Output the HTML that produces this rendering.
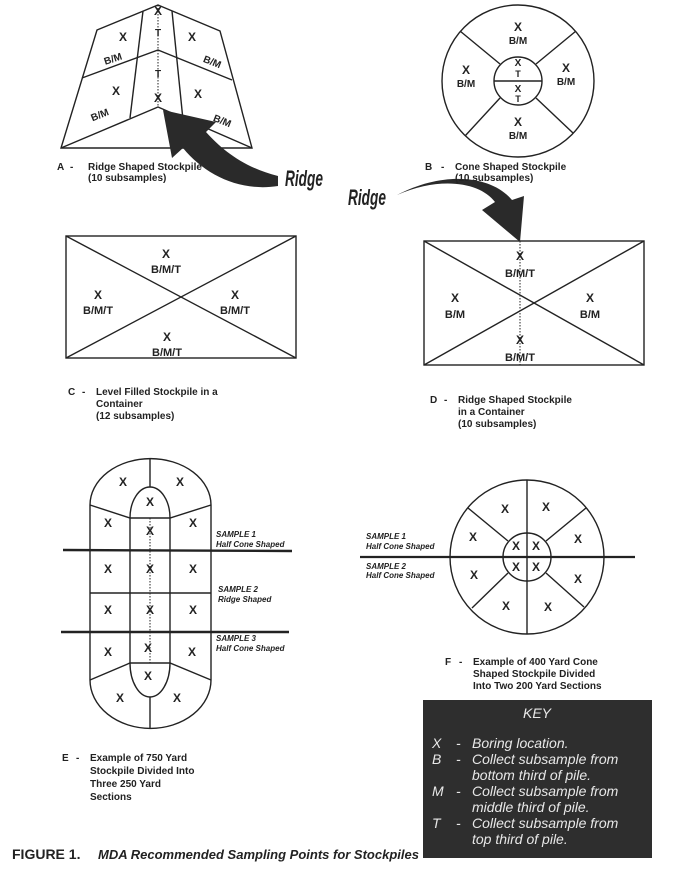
<!DOCTYPE html>
<html><head><meta charset="utf-8"><style>
html,body{margin:0;padding:0;background:#fff;}
svg{display:block;}
.t{font-family:"Liberation Sans",sans-serif;font-weight:bold;fill:#222;}
.s{font-family:"Liberation Sans",sans-serif;font-weight:bold;font-style:italic;fill:#222;font-size:8px;}
.k{font-family:"Liberation Sans",sans-serif;font-style:italic;fill:#e8e8e8;font-size:14px;}
</style></head><body>
<svg width="691" height="876" viewBox="0 0 691 876" xmlns="http://www.w3.org/2000/svg">
<g stroke="#222" stroke-width="1.4" fill="none">
<polygon points="158,5 220,31 252,148 61,148 97,30"/>
<polyline points="82,78 158,50 232,80"/>
<polyline points="61,148 158,107 252,148"/>
<line x1="143" y1="11" x2="130" y2="118"/>
<line x1="172" y1="11" x2="183" y2="120"/>
<line x1="158" y1="5" x2="158" y2="107" stroke-dasharray="1.5,1.5" stroke-width="1"/>
<circle cx="518" cy="81" r="76"/>
<circle cx="518" cy="81" r="24"/>
<line x1="494" y1="81" x2="542" y2="81"/>
<line x1="460" y1="31" x2="500" y2="64"/><line x1="576" y1="31" x2="536" y2="64"/>
<line x1="465" y1="136" x2="500" y2="98"/><line x1="573" y1="133" x2="536" y2="98"/>
<rect x="66" y="236" width="230" height="122"/>
<line x1="66" y1="236" x2="296" y2="358"/><line x1="296" y1="236" x2="66" y2="358"/>
<rect x="424" y="241" width="220" height="124"/>
<line x1="424" y1="241" x2="644" y2="365"/><line x1="644" y1="241" x2="424" y2="365"/>
<line x1="520" y1="241" x2="520" y2="365" stroke-dasharray="1.5,1.5" stroke-width="1"/>
<path d="M90,505 A60,46 0 0 1 211,505 L211,680 A60,48 0 0 1 90,680 Z"/>
<path d="M130,518 A20,31 0 0 1 170,518 L170,663 A20,34 0 0 1 130,663 Z"/>
<polyline points="90,505 130,518 170,518 211,505"/>
<polyline points="90,680 130,663 170,663 211,680"/>
<line x1="150" y1="459" x2="150" y2="487"/><line x1="150" y1="697" x2="150" y2="728"/>
<line x1="90" y1="593" x2="211" y2="593"/>
<line x1="63" y1="550" x2="292" y2="551" stroke-width="2.4"/>
<line x1="61" y1="632" x2="289" y2="632" stroke-width="2.4"/>
<line x1="150" y1="518" x2="150" y2="663" stroke-dasharray="1.5,1.5" stroke-width="1"/>
<circle cx="527" cy="557" r="77"/>
<circle cx="527" cy="557" r="24"/>
<line x1="360" y1="557" x2="635" y2="557" stroke-width="2.2"/>
<line x1="527" y1="480" x2="527" y2="634"/>
<line x1="468" y1="508" x2="508" y2="541"/><line x1="586" y1="508" x2="546" y2="541"/>
<line x1="472" y1="608" x2="508" y2="573"/><line x1="584" y1="607" x2="546" y2="573"/>
</g>
<path d="M278,176 C245,168 222,150 206,132 L216,122 L163,110 L172,158 L183,148 C205,175 240,192 278,186 Z" fill="#2a2a2a"/>
<path d="M397,195 C440,176 480,182 495,202 L482,210 L520,242 L524,196 L512,200 C492,176 445,170 397,195 Z" fill="#2a2a2a"/>
<text class="t" style="font-style:italic;font-size:19px;" transform="translate(285,186) scale(0.72,1.15)">Ridge</text>
<text class="t" style="font-style:italic;font-size:19px;" transform="translate(348,205) scale(0.72,1.15)">Ridge</text>
<g class="t" font-size="12" text-anchor="middle">
<text x="158" y="15">X</text><text x="158" y="36" font-size="10">T</text>
<text x="158" y="77" font-size="10">T</text><text x="158" y="102">X</text>
<text x="123" y="41">X</text><text x="192" y="41">X</text>
<text x="116" y="95">X</text><text x="198" y="98">X</text>
<text x="114" y="62" font-size="10" transform="rotate(-18 114 62)">B/M</text>
<text x="211" y="65" font-size="10" transform="rotate(22 211 65)">B/M</text>
<text x="101" y="118" font-size="10" transform="rotate(-22 101 118)">B/M</text>
<text x="221" y="124" font-size="10" transform="rotate(22 221 124)">B/M</text>
<text x="518" y="31">X</text><text x="518" y="44" font-size="10">B/M</text>
<text x="466" y="74">X</text><text x="466" y="87" font-size="10">B/M</text>
<text x="566" y="72">X</text><text x="566" y="85" font-size="10">B/M</text>
<text x="518" y="126">X</text><text x="518" y="139" font-size="10">B/M</text>
<text x="518" y="66" font-size="10">X</text><text x="518" y="77" font-size="9">T</text>
<text x="518" y="92" font-size="10">X</text><text x="518" y="102" font-size="9">T</text>
<text x="166" y="258">X</text><text x="166" y="273" font-size="11">B/M/T</text>
<text x="98" y="299">X</text><text x="98" y="314" font-size="11">B/M/T</text>
<text x="235" y="299">X</text><text x="235" y="314" font-size="11">B/M/T</text>
<text x="167" y="341">X</text><text x="167" y="356" font-size="11">B/M/T</text>
<text x="520" y="260">X</text><text x="520" y="277" font-size="11">B/M/T</text>
<text x="455" y="302">X</text><text x="455" y="318" font-size="11">B/M</text>
<text x="590" y="302">X</text><text x="590" y="318" font-size="11">B/M</text>
<text x="520" y="344">X</text><text x="520" y="361" font-size="11">B/M/T</text>
<text x="123" y="486">X</text><text x="180" y="486">X</text><text x="150" y="506">X</text>
<text x="108" y="527">X</text><text x="150" y="535">X</text><text x="193" y="527">X</text>
<text x="108" y="573">X</text><text x="150" y="573">X</text><text x="193" y="573">X</text>
<text x="108" y="614">X</text><text x="150" y="614">X</text><text x="193" y="614">X</text>
<text x="108" y="656">X</text><text x="148" y="652">X</text><text x="192" y="656">X</text>
<text x="148" y="680">X</text><text x="120" y="702">X</text><text x="177" y="702">X</text>
<text x="505" y="513">X</text><text x="546" y="511">X</text>
<text x="473" y="541">X</text><text x="578" y="543">X</text>
<text x="474" y="579">X</text><text x="578" y="583">X</text>
<text x="506" y="610">X</text><text x="548" y="611">X</text>
<text x="516" y="550">X</text><text x="536" y="550">X</text>
<text x="516" y="571">X</text><text x="536" y="571">X</text>
</g>
<text x="216" y="537" class="s">SAMPLE 1</text><text x="216" y="547" class="s">Half Cone Shaped</text>
<text x="218" y="592" class="s">SAMPLE 2</text><text x="218" y="602" class="s">Ridge Shaped</text>
<text x="216" y="641" class="s">SAMPLE 3</text><text x="216" y="651" class="s">Half Cone Shaped</text>
<text x="366" y="539" class="s">SAMPLE 1</text><text x="366" y="549" class="s">Half Cone Shaped</text>
<text x="366" y="569" class="s">SAMPLE 2</text><text x="366" y="578" class="s">Half Cone Shaped</text>
<g class="t" font-size="10">
<text x="57" y="170">A</text><text x="70" y="170">-</text><text x="88" y="170">Ridge Shaped Stockpile</text><text x="88" y="181">(10 subsamples)</text>
<text x="425" y="170">B</text><text x="441" y="170">-</text><text x="455" y="170">Cone Shaped Stockpile</text><text x="455" y="181">(10 subsamples)</text>
<text x="68" y="395">C</text><text x="82" y="395">-</text><text x="96" y="395">Level Filled Stockpile in a</text><text x="96" y="407">Container</text><text x="96" y="419">(12 subsamples)</text>
<text x="430" y="403">D</text><text x="444" y="403">-</text><text x="458" y="403">Ridge Shaped Stockpile</text><text x="458" y="415">in a Container</text><text x="458" y="427">(10 subsamples)</text>
<text x="62" y="761">E</text><text x="76" y="761">-</text><text x="90" y="761">Example of 750 Yard</text><text x="90" y="774">Stockpile Divided Into</text><text x="90" y="787">Three 250 Yard</text><text x="90" y="800">Sections</text>
<text x="445" y="665">F</text><text x="459" y="665">-</text><text x="473" y="665">Example of 400 Yard Cone</text><text x="473" y="677">Shaped Stockpile Divided</text><text x="473" y="689">Into Two 200 Yard Sections</text>
</g>
<text x="12" y="859" class="t" font-size="14">FIGURE 1.</text>
<text x="98" y="859" class="t" font-size="13" font-style="italic">MDA Recommended Sampling Points for Stockpiles</text>
<rect x="423" y="700" width="229" height="158" fill="#2e2e2e"/>
<text x="537" y="718" class="k" text-anchor="middle">KEY</text>
<g class="k">
<text x="432" y="748">X</text><text x="456" y="748">-</text><text x="472" y="748">Boring location.</text>
<text x="432" y="764">B</text><text x="456" y="764">-</text><text x="472" y="764">Collect subsample from</text>
<text x="472" y="780">bottom third of pile.</text>
<text x="432" y="796">M</text><text x="456" y="796">-</text><text x="472" y="796">Collect subsample from</text>
<text x="472" y="812">middle third of pile.</text>
<text x="432" y="828">T</text><text x="456" y="828">-</text><text x="472" y="828">Collect subsample from</text>
<text x="472" y="844">top third of pile.</text>
</g>
</svg>
</body></html>
